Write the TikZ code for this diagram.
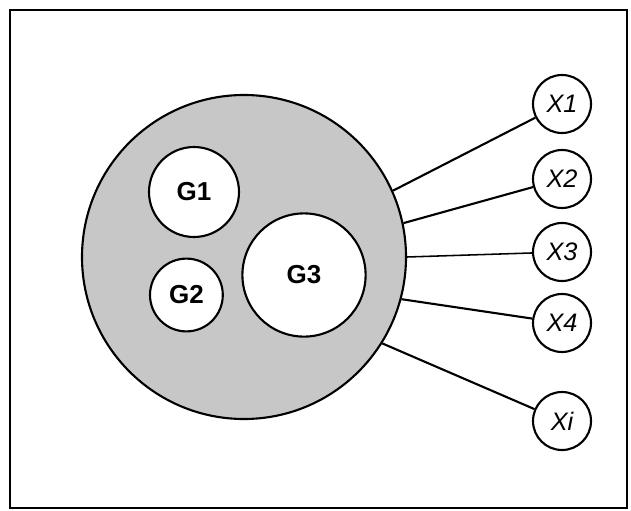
\documentclass[tikz,border=0pt]{standalone}
\usepackage{fontspec}
\setmainfont{Liberation Sans}
\begin{document}
\begin{tikzpicture}[
    every node/.style={circle,draw,line width=1.5pt,inner sep=0pt},
    grp/.style={fill=black!22,minimum size=8.1cm},
    sub/.style={fill=white,font=\fontsize{18.5}{18.5}\selectfont\bfseries},
    var/.style={fill=white,minimum size=1.45cm,font=\fontsize{18}{18}\selectfont\itshape},
    link/.style={line width=1.5pt}
  ]
                \useasboundingbox (0,0) rectangle (15.775,12.75);
                \draw[line width=1.5pt] (0.24,0.05) rectangle (15.68,12.49);
                % the whole group and its three parts
                \node[grp] (all) at (6.1,6.325) {};
                \node[sub,minimum size=2.25cm] (g1) at (4.85,7.95) {G1};
                \node[sub,minimum size=1.82cm] (g2) at (4.66,5.375) {G2};
                \node[sub,minimum size=3.08cm] (g3) at (7.6,5.875) {G3};
                % variables on the right
                \node[var] (x1) at (14.05,10.15) {X1};
                \node[var] (x2) at (14.05,8.275) {X2};
                \node[var] (x3) at (14.05,6.45) {X3};
                \node[var] (x4) at (14.05,4.675) {X4};
                \node[var] (xi) at (14.05,2.225) {Xi};
                \draw[link] (all.24) -- (x1);
                \draw[link] (all.12) -- (x2);
                \draw[link,line width=1.1pt] (all.0) -- (x3);
                \draw[link] (all.-15) -- (x4);
                \draw[link] (all.-32) -- (xi);
            \end{tikzpicture}
\end{document}
